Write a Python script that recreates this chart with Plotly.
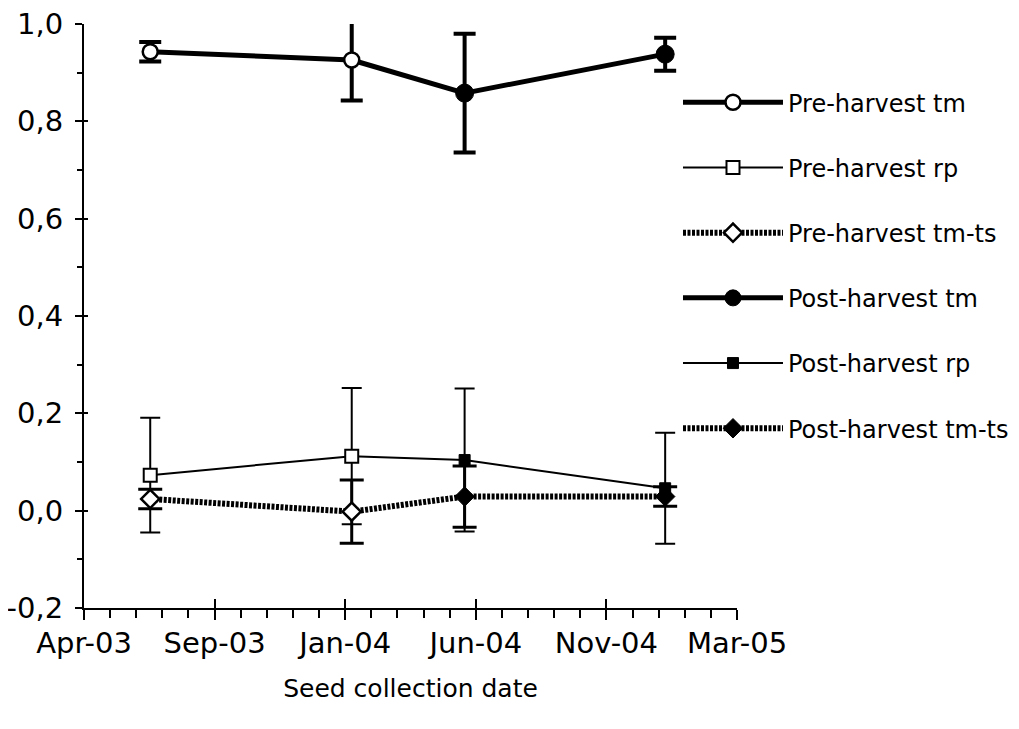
import plotly.graph_objects as go

# ---- data ----
dates_pre = ["2003-07-05", "2004-02-06"]
dates_post = ["2004-06-06", "2005-01-07"]

pre_tm = [0.943, 0.926]
pre_tm_err = [0.020, 0.083]
post_tm = [0.858, 0.938]
post_tm_err = [0.122, 0.034]

pre_rp = [0.073, 0.112]
pre_rp_err = [0.118, 0.140]
post_rp = [0.104, 0.046]
post_rp_err = [0.147, 0.114]

pre_tmts = [0.024, -0.002]
pre_tmts_err = [0.020, 0.065]
post_tmts = [0.029, 0.029]
post_tmts_err = [0.063, 0.020]

tick_dates = ["2003-04-25", "2003-09-12", "2004-01-30", "2004-06-18", "2004-11-05", "2005-03-25"]
tick_labels = ["Apr-03", "Sep-03", "Jan-04", "Jun-04", "Nov-04", "Mar-05"]
y_ticks = [-0.2, 0.0, 0.2, 0.4, 0.6, 0.8, 1.0]
y_labels = ["-0,2", "0,0", "0,2", "0,4", "0,6", "0,8", "1,0"]

FONT = "DejaVu Sans"

styles = {
    "tm": dict(line=dict(color="black", width=5), err=dict(thickness=4, width=11),
               pre=dict(symbol="circle", size=15, color="white", line=dict(color="black", width=2.5)),
               post=dict(symbol="circle", size=18, color="black", line=dict(color="black", width=1))),
    "rp": dict(line=dict(color="black", width=2), err=dict(thickness=2, width=10),
               pre=dict(symbol="square", size=13, color="white", line=dict(color="black", width=2)),
               post=dict(symbol="square", size=11, color="black", line=dict(color="black", width=1))),
    "tmts": dict(line=dict(color="black", width=6, dash="3px,1.5px"), err=dict(thickness=3, width=12),
                 pre=dict(symbol="diamond", size=14, color="white", line=dict(color="black", width=2.5)),
                 post=dict(symbol="diamond", size=15, color="black", line=dict(color="black", width=1))),
}

series = [
    ("Pre-harvest tm", "tm", "pre", dates_pre, pre_tm, pre_tm_err),
    ("Pre-harvest rp", "rp", "pre", dates_pre, pre_rp, pre_rp_err),
    ("Pre-harvest tm-ts", "tmts", "pre", dates_pre, pre_tmts, pre_tmts_err),
    ("Post-harvest tm", "tm", "post", dates_post, post_tm, post_tm_err),
    ("Post-harvest rp", "rp", "post", dates_post, post_rp, post_rp_err),
    ("Post-harvest tm-ts", "tmts", "post", dates_post, post_tmts, post_tmts_err),
]

fig = go.Figure()

# connecting segments between last pre-harvest and first post-harvest point
for key, pre_vals, post_vals in [("tm", pre_tm, post_tm), ("rp", pre_rp, post_rp), ("tmts", pre_tmts, post_tmts)]:
    fig.add_trace(go.Scatter(
        x=[dates_pre[-1], dates_post[0]], y=[pre_vals[-1], post_vals[0]],
        mode="lines", line=styles[key]["line"], showlegend=False, hoverinfo="skip",
        cliponaxis=False))

for name, key, phase, xs, ys, errs in series:
    st = styles[key]
    fig.add_trace(go.Scatter(
        x=xs, y=ys, name=name, legendgroup=name,
        mode="lines+markers",
        line=st["line"],
        marker=st[phase],
        cliponaxis=False,
        error_y=dict(type="data", array=errs, visible=True, color="black",
                     thickness=st["err"]["thickness"], width=st["err"]["width"]),
    ))

# invisible trace carrying overlay axes (inner half of crossing tick marks)
fig.add_trace(go.Scatter(x=dates_pre, y=pre_tm, xaxis="x2", yaxis="y2", mode="markers",
                         marker=dict(opacity=0), showlegend=False, hoverinfo="skip"))

x_range = [tick_dates[0], tick_dates[-1]]
y_range = [y_ticks[0], y_ticks[-1]]

fig.update_layout(
    width=1019, height=729,
    margin=dict(l=76, r=290, t=16, b=129, autoexpand=False),
    plot_bgcolor="white", paper_bgcolor="white",
    font=dict(family=FONT, color="black"),
    xaxis=dict(type="date", range=x_range, tickvals=tick_dates, ticktext=tick_labels,
               ticks="outside", ticklen=10, tickwidth=2, tickcolor="black",
               showline=True, linewidth=2, linecolor="black", showgrid=False, zeroline=False,
               tickfont=dict(size=29), ticklabelstandoff=-2, automargin=False,
               ticklabeloverflow="allow",
               minor=dict(ticks="outside", ticklen=8, tickwidth=2, tickcolor="black",
                          dtick=28 * 86400000, tick0=tick_dates[0], showgrid=False),
               title=dict(text="Seed collection date", font=dict(size=25), standoff=21)),
    yaxis=dict(range=y_range, tickvals=y_ticks, ticktext=y_labels,
               ticks="outside", ticklen=7, tickwidth=2, tickcolor="black",
               showline=True, linewidth=2, linecolor="black", showgrid=False, zeroline=False,
               tickfont=dict(size=29), ticklabelstandoff=6, automargin=False,
               ticklabeloverflow="allow",
               minor=dict(ticks="outside", ticklen=5, tickwidth=2, tickcolor="black",
                          dtick=0.1, tick0=0, showgrid=False)),
    xaxis2=dict(type="date", overlaying="x", anchor="y2", range=x_range, tickvals=tick_dates,
                ticks="inside", ticklen=9, tickwidth=2, tickcolor="black", automargin=False,
                showticklabels=False, showline=False, showgrid=False, zeroline=False),
    yaxis2=dict(overlaying="y", anchor="x2", range=y_range, tickvals=y_ticks,
                ticks="inside", ticklen=4, tickwidth=2, tickcolor="black", automargin=False,
                showticklabels=False, showline=False, showgrid=False, zeroline=False),
    showlegend=True,
    legend=dict(xref="container", yref="container", x=0.6575, y=0.901,
                xanchor="left", yanchor="top",
                font=dict(size=24, family=FONT), bgcolor="rgba(0,0,0,0)",
                itemwidth=100, tracegroupgap=31, traceorder="grouped"),
)

fig.write_html("out.html")
